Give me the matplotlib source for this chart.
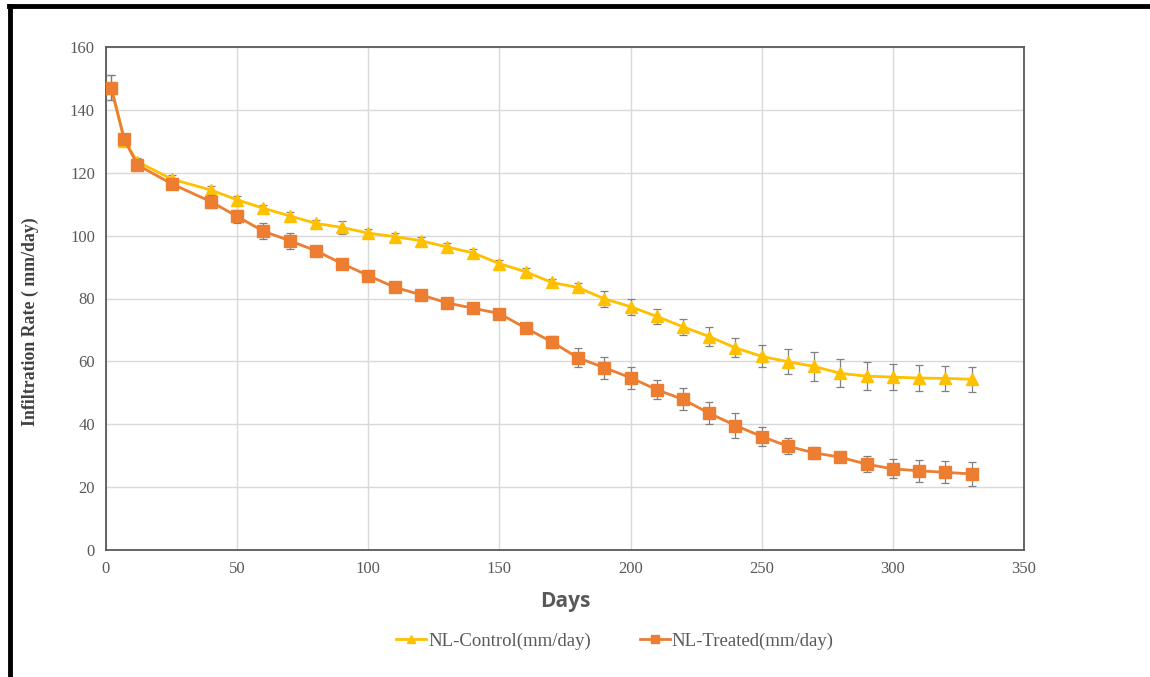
import matplotlib
matplotlib.use("Agg")
import matplotlib.pyplot as plt
from matplotlib.lines import Line2D

days = [2, 7, 12, 25, 40, 50, 60, 70, 80, 90, 100, 110, 120, 130, 140, 150, 160, 170,
        180, 190, 200, 210, 220, 230, 240, 250, 260, 270, 280, 290, 300, 310, 320, 330]

control = [147, 130.2, 123.5, 118, 114.5, 111.4, 108.7, 106.3, 103.9, 102.6, 100.8, 99.7,
           98.4, 96.4, 94.5, 91.1, 88.5, 85.1, 83.5, 79.9, 77.4, 74.3, 71.0, 67.9,
           64.3, 61.6, 59.9, 58.4, 56.2, 55.3, 55.0, 54.7, 54.6, 54.3]
control_err = [4, 1, 1.2, 1.2, 1.2, 1.2, 1.2, 1.2, 1.2, 2, 1.2, 1.2,
               1.2, 1.2, 1.2, 1.2, 1.2, 1.2, 1.5, 2.5, 2.5, 2.5, 2.5, 3,
               3, 3.5, 4, 4.5, 4.5, 4.5, 4.2, 4, 4, 4]

treated = [147, 130.6, 122.5, 116.5, 110.8, 106.1, 101.4, 98.4, 95.2, 91.1, 87.3, 83.6,
           81.2, 78.6, 76.9, 75.2, 70.6, 66.2, 61.1, 58.0, 54.8, 51.0, 47.9, 43.5,
           39.6, 36.1, 33.0, 30.9, 29.5, 27.3, 25.8, 25.2, 24.7, 24.2]
treated_err = [4, 1, 1, 1.5, 2, 2, 2.5, 2.5, 1.5, 1, 1, 1,
               1, 1, 1, 1, 1.5, 2, 3, 3.5, 3.5, 3, 3.5, 3.5,
               4, 3, 2.5, 2, 1.5, 2.5, 3, 3.5, 3.5, 3.7]

x_ticks = [0, 50, 100, 150, 200, 250, 300, 350]
y_ticks = [0, 20, 40, 60, 80, 100, 120, 140, 160]

label_control = "NL-Control(mm/day)"
label_treated = "NL-Treated(mm/day)"

gray_text = "#595959"
c_control = "#FFC000"
c_treated = "#ED7D31"

fig = plt.figure(figsize=(11.5, 6.77), dpi=100)
ax = fig.add_axes([106/1150, 1-550/677, (1024-106)/1150, (550-47)/677])

ax.errorbar(days, control, yerr=control_err, color=c_control, lw=2.0,
            marker="^", markersize=8, markeredgecolor=c_control,
            ecolor="#808080", elinewidth=0.9, capsize=3, capthick=0.9,
            label=label_control, zorder=3)
ax.errorbar(days, treated, yerr=treated_err, color=c_treated, lw=2.0,
            marker="s", markersize=8.5, markeredgecolor=c_treated,
            ecolor="#808080", elinewidth=0.9, capsize=3, capthick=0.9,
            label=label_treated, zorder=4)

ax.set_xlim(0, 350)
ax.set_ylim(0, 160)
ax.set_xticks(x_ticks)
ax.set_yticks(y_ticks)
ax.grid(True, color="#D9D9D9", lw=1.0)
ax.set_axisbelow(True)
ax.tick_params(length=0, pad=8, labelcolor=gray_text, labelsize=12)
for lab in ax.get_xticklabels() + ax.get_yticklabels():
    lab.set_family("Liberation Serif")
for s in ax.spines.values():
    s.set_color("#595959")
    s.set_linewidth(1.3)

ax.set_xlabel("Days", fontsize=15, fontweight="bold", color=gray_text,
              family="Open Sans", labelpad=10)
fig.text(30/1150, 1-322/677, "Infiltration Rate ( mm/day)", rotation=90,
         ha="center", va="center", fontsize=12.8, fontweight="bold",
         family="Liberation Serif", color="#404040")

h, l = ax.get_legend_handles_labels()
h = [hh[0] for hh in h]
leg = fig.legend(h, l, loc="center", bbox_to_anchor=(615/1150, 1-641/677),
                 ncol=2, frameon=False, prop={"family": "Liberation Serif", "size": 13.5},
                 labelcolor=gray_text, columnspacing=2.6, handlelength=1.6,
                 handletextpad=0.1, markerscale=0.75)

# outer black frame (top and left)
fig.add_artist(Line2D([9/1150, 1], [1-6/677, 1-6/677], color="black", lw=3.5,
                      transform=fig.transFigure))
fig.add_artist(Line2D([9.5/1150, 9.5/1150], [0, 1-6/677], color="black", lw=3.5,
                      transform=fig.transFigure))

fig.savefig("out.png", dpi=100, facecolor="white")
